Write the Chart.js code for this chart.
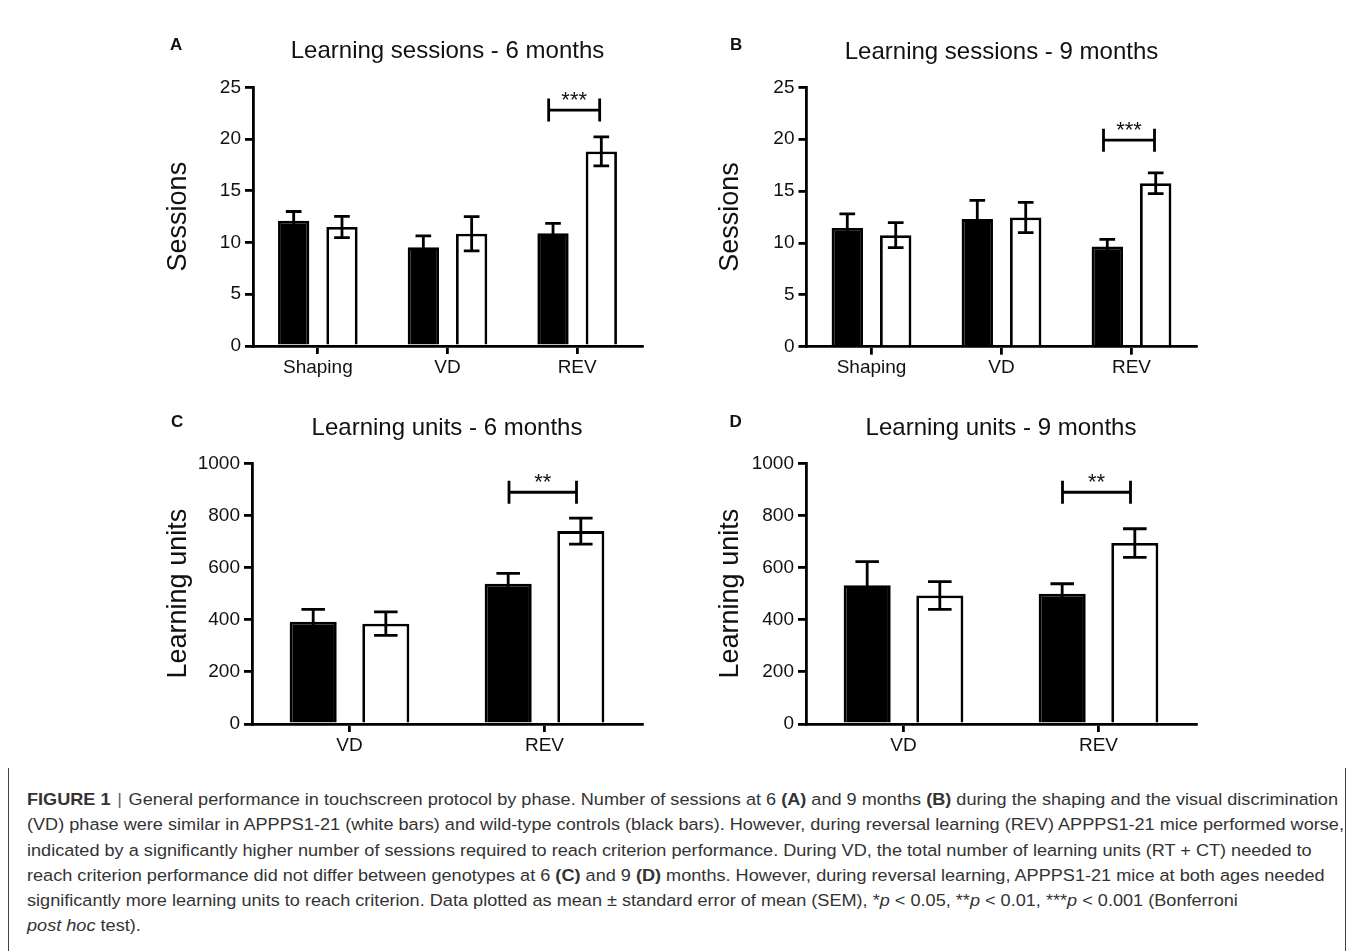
<!DOCTYPE html>
<html>
<head>
<meta charset="utf-8">
<script src="https://cdn.jsdelivr.net/npm/chart.js@4/dist/chart.umd.min.js"></script>
<style>
  html, body { margin: 0; padding: 0; background: #fff; }
  body { width: 1355px; height: 951px; position: relative; overflow: hidden;
         font-family: 'Liberation Sans', Arial, sans-serif; }
  canvas { position: absolute; }
  .frame { position: absolute; top: 768px; bottom: 0; width: 1px; background: #444; }
  #caption { position: absolute; left: 27px; top: 787px; font-size: 16.3px; line-height: 25.3px;
             color: #333; transform-origin: 0 0; white-space: nowrap; }
  #caption div { white-space: nowrap; }
  #caption .sep { color: #666; padding: 0 6px; }
</style>
</head>
<body>
<canvas id="panelA" width="520" height="370" style="left:140px;top:20px"></canvas>
<canvas id="panelB" width="520" height="370" style="left:690px;top:20px"></canvas>
<canvas id="panelC" width="520" height="370" style="left:140px;top:400px"></canvas>
<canvas id="panelD" width="520" height="370" style="left:690px;top:400px"></canvas>

<div class="frame" style="left:8px"></div>
<div class="frame" style="left:1345px"></div>
<div id="caption">
  <div id="capLine1"><b>FIGURE 1</b><span class="sep">|</span>General performance in touchscreen protocol by phase. Number of sessions at 6 <b>(A)</b> and 9 months <b>(B)</b> during the shaping and the visual discrimination</div>
  <div>(VD) phase were similar in APPPS1-21 (white bars) and wild-type controls (black bars). However, during reversal learning (REV) APPPS1-21 mice performed worse,</div>
  <div>indicated by a significantly higher number of sessions required to reach criterion performance. During VD, the total number of learning units (RT + CT) needed to</div>
  <div>reach criterion performance did not differ between genotypes at 6 <b>(C)</b> and 9 <b>(D)</b> months. However, during reversal learning, APPPS1-21 mice at both ages needed</div>
  <div>significantly more learning units to reach criterion. Data plotted as mean ± standard error of mean (SEM), *<i>p</i> &lt; 0.05, **<i>p</i> &lt; 0.01, ***<i>p</i> &lt; 0.001 (Bonferroni</div>
  <div><i>post hoc</i> test).</div>
</div>

<script>
// Phases on the x axis
const sessionPhases = ['Shaping', 'VD', 'REV'];
const unitPhases = ['VD', 'REV'];

// y-axis tick values
const sessionTicks = [0, 5, 10, 15, 20, 25];
const unitTicks = [0, 200, 400, 600, 800, 1000];

// Sessions to criterion, 6 months (mean and SEM)
const sessions6WT = [12.1, 9.55, 10.9];
const sessions6WTsem = [0.9, 1.1, 0.95];
const sessions6TG = [11.5, 10.85, 18.8];
const sessions6TGsem = [1.03, 1.65, 1.4];

// Sessions to criterion, 9 months
const sessions9WT = [11.45, 12.3, 9.65];
const sessions9WTsem = [1.35, 1.8, 0.7];
const sessions9TG = [10.75, 12.45, 15.75];
const sessions9TGsem = [1.2, 1.45, 1.0];

// Learning units, 6 months
const units6WT = [392, 538];
const units6WTsem = [48, 40];
const units6TG = [385, 740];
const units6TGsem = [45, 50];

// Learning units, 9 months
const units9WT = [532, 500];
const units9WTsem = [91, 38];
const units9TG = [493, 694];
const units9TGsem = [53, 55];

// Significance markers on the REV comparison
const sigLabels = ['***', '***', '**', '**'];
const sigLevels = [22.8, 19.9, 889, 889];

Chart.defaults.font.family = "'Liberation Sans', Arial, sans-serif";
Chart.defaults.color = '#111';

const FONT = "'Liberation Sans', Arial, sans-serif";

// Error bars, significance bracket, panel title and letter
const panelDecor = {
  id: 'panelDecor',
  afterDatasetsDraw(chart, args, o) {
    const ctx = chart.ctx;
    const xs = chart.scales.x, ys = chart.scales.y;
    ctx.save();
    ctx.strokeStyle = '#000';
    ctx.lineWidth = 2.8;
    chart.data.datasets.forEach((ds, di) => {
      const meta = chart.getDatasetMeta(di);
      meta.data.forEach((bar, i) => {
        const m = ds.data[i], e = ds.sem[i];
        const top = ys.getPixelForValue(m + e);
        const bot = ys.getPixelForValue(m - e);
        const half = bar.width / 4;
        ctx.beginPath();
        ctx.moveTo(bar.x, top); ctx.lineTo(bar.x, bot);
        ctx.moveTo(bar.x - half, top); ctx.lineTo(bar.x + half, top);
        ctx.moveTo(bar.x - half, bot); ctx.lineTo(bar.x + half, bot);
        ctx.stroke();
      });
    });

    // bracket over the last category
    const idx = chart.data.labels.length - 1;
    const cx = xs.getPixelForValue(idx);
    const l = cx + o.bracket[0], r = cx + o.bracket[1];
    const yb = ys.getPixelForValue(o.sigAt);
    ctx.beginPath();
    ctx.moveTo(l, yb); ctx.lineTo(r, yb);
    ctx.moveTo(l, yb - 11.5); ctx.lineTo(l, yb + 11.5);
    ctx.moveTo(r, yb - 11.5); ctx.lineTo(r, yb + 11.5);
    ctx.stroke();
    ctx.fillStyle = '#111';
    ctx.font = '22px ' + FONT;
    ctx.textAlign = 'center';
    ctx.textBaseline = 'alphabetic';
    ctx.fillText(o.sig, (l + r) / 2, yb - 3);
    ctx.restore();
  },
  afterDraw(chart, args, o) {
    const ctx = chart.ctx;
    const a = chart.chartArea;
    ctx.save();
    ctx.fillStyle = '#111';
    ctx.textBaseline = 'alphabetic';
    ctx.font = '24px ' + FONT;
    ctx.textAlign = 'center';
    ctx.fillText(o.title, (a.left + a.right) / 2, o.titleY);
    ctx.font = 'bold 17px ' + FONT;
    ctx.textAlign = 'left';
    ctx.fillText(o.letter, o.letterX, o.letterY);
    ctx.restore();
  }
};

const panels = [
  { id: 'panelA', letter: 'A', title: 'Learning sessions - 6 months', yTitle: 'Sessions',
    labels: sessionPhases, ticks: sessionTicks,
    wt: sessions6WT, wtSem: sessions6WTsem, tg: sessions6TG, tgSem: sessions6TGsem,
    sig: sigLabels[0], sigAt: sigLevels[0],
    pad: { left: 18, right: 18, top: 67.3, bottom: 4 }, yW: 95, xH: 40,
    letterX: 30, letterY: 30, titleY: 38.3, bracket: [-28.5, 22.5] },
  { id: 'panelB', letter: 'B', title: 'Learning sessions - 9 months', yTitle: 'Sessions',
    labels: sessionPhases, ticks: sessionTicks,
    wt: sessions9WT, wtSem: sessions9WTsem, tg: sessions9TG, tgSem: sessions9TGsem,
    sig: sigLabels[1], sigAt: sigLevels[1],
    pad: { left: 20.8, right: 13.5, top: 67.3, bottom: 3.3 }, yW: 95.7, xH: 40,
    letterX: 40, letterY: 30, titleY: 38.5, bracket: [-28, 23] },
  { id: 'panelC', letter: 'C', title: 'Learning units - 6 months', yTitle: 'Learning units',
    labels: unitPhases, ticks: unitTicks,
    wt: units6WT, wtSem: units6WTsem, tg: units6TG, tgSem: units6TGsem,
    sig: sigLabels[2], sigAt: sigLevels[2],
    pad: { left: 18, right: 18, top: 63.3, bottom: 4 }, yW: 94, xH: 42,
    letterX: 31, letterY: 26.7, titleY: 35, bracket: [-35.5, 32] },
  { id: 'panelD', letter: 'D', title: 'Learning units - 9 months', yTitle: 'Learning units',
    labels: unitPhases, ticks: unitTicks,
    wt: units9WT, wtSem: units9WTsem, tg: units9TG, tgSem: units9TGsem,
    sig: sigLabels[3], sigAt: sigLevels[3],
    pad: { left: 20.8, right: 14, top: 63.3, bottom: 4 }, yW: 95.2, xH: 42,
    letterX: 39.5, letterY: 27.3, titleY: 35, bracket: [-36, 32] }
];

panels.forEach(p => {
  new Chart(document.getElementById(p.id), {
    type: 'bar',
    data: {
      labels: p.labels,
      datasets: [
        { label: 'Wild-type', data: p.wt, sem: p.wtSem,
          backgroundColor: '#000', borderColor: '#000', borderWidth: 2.8, borderSkipped: 'start',
          barPercentage: 0.648, categoryPercentage: 0.745 },
        { label: 'APPPS1-21', data: p.tg, sem: p.tgSem,
          backgroundColor: '#fff', borderColor: '#000', borderWidth: 2.8, borderSkipped: 'start',
          barPercentage: 0.648, categoryPercentage: 0.745 }
      ]
    },
    options: {
      responsive: false,
      animation: false,
      devicePixelRatio: 1,
      layout: { padding: p.pad },
      plugins: {
        legend: { display: false },
        tooltip: { enabled: false },
        panelDecor: { title: p.title, letter: p.letter, letterX: p.letterX, letterY: p.letterY,
                      titleY: p.titleY, sig: p.sig, sigAt: p.sigAt, bracket: p.bracket }
      },
      scales: {
        x: {
          type: 'category',
          offset: true,
          grid: { display: true, drawOnChartArea: false, drawTicks: true, tickLength: 8,
                  offset: false, color: '#000', lineWidth: 2.8 },
          border: { display: true, color: '#000', width: 2.8 },
          ticks: { color: '#111', font: { size: 19 }, padding: 2, maxRotation: 0, autoSkip: false },
          afterFit: s => { s.height = p.xH; }
        },
        y: {
          min: p.ticks[0],
          max: p.ticks[p.ticks.length - 1],
          ticks: { stepSize: p.ticks[1] - p.ticks[0], color: '#111', font: { size: 19 }, padding: 4,
                   callback: v => String(v) },
          grid: { display: true, drawOnChartArea: false, drawTicks: true, tickLength: 8,
                  color: '#000', lineWidth: 2.8 },
          border: { display: true, color: '#000', width: 2.8 },
          title: { display: true, text: p.yTitle, color: '#111', font: { size: 27 },
                   padding: { top: 4, bottom: 4 } },
          afterFit: s => { s.width = p.yW; }
        }
      }
    },
    plugins: [panelDecor]
  });
});

// fit the caption's first line to the frame width
const cap = document.getElementById('caption');
const line1 = document.getElementById('capLine1');
const range = document.createRange();
range.selectNodeContents(line1);
const textW = range.getBoundingClientRect().width;
cap.style.transform = 'scaleX(' + (1311 / textW) + ')';
</script>
</body>
</html>
